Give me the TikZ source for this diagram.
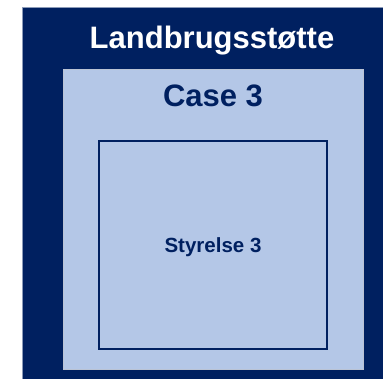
\documentclass[tikz,border=0pt]{standalone}
\usepackage{fontspec}
\setmainfont{Liberation Sans}
\definecolor{navy}{HTML}{002060}
\definecolor{lightblue}{HTML}{B4C7E7}
\definecolor{edgegray}{HTML}{8C9BB8}
\begin{document}
\begin{tikzpicture}[x=1pt,y=-1pt,
  outerbox/.style={draw=edgegray,line width=0.8pt,fill=navy,inner sep=0pt,outer sep=0pt},
  casebox/.style={draw=edgegray!60,line width=0.6pt,fill=lightblue,inner sep=0pt,outer sep=0pt},
  agencybox/.style={draw=navy,line width=1.8pt,fill=lightblue,inner sep=0pt,outer sep=0pt},
  titletext/.style={font=\bfseries\fontsize{31}{36}\selectfont,inner sep=0pt,anchor=base},
  agencytext/.style={font=\bfseries\fontsize{20.5}{24}\selectfont,text=navy,inner sep=0pt,anchor=base}]
\useasboundingbox (0,0) rectangle (383,379);
\path[outerbox] (22,7) rectangle (400,400);
\coordinate (outerTL) at (22,7);
\path[casebox] (63,69) rectangle (363,369);
\coordinate (caseTL) at (63,69);
\path[agencybox] (99,141) rectangle (327,349);
\node[titletext,text=white] (land) at (212,49) {Landbrugsstøtte};
\node[titletext,text=navy] (case) at (213,107) {Case 3};
\node[agencytext] (sty) at (213,253) {Styrelse 3};
\end{tikzpicture}
\end{document}
